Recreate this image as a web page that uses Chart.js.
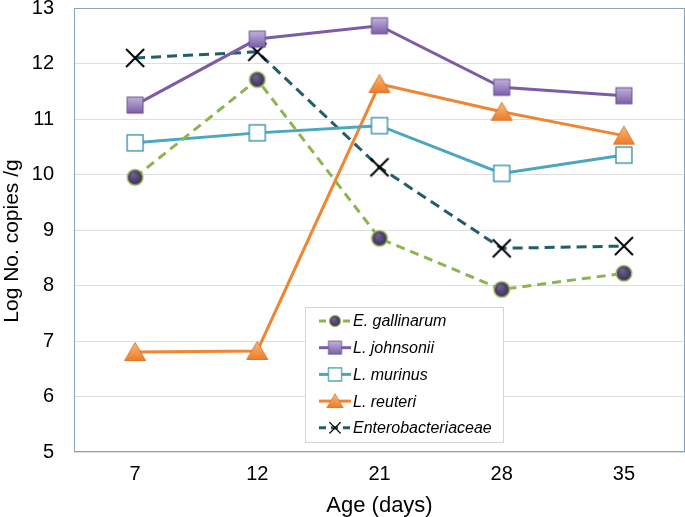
<!DOCTYPE html>
<html>
<head>
<meta charset="utf-8">
<script src="https://cdn.jsdelivr.net/npm/chart.js@4.4.1/dist/chart.umd.min.js"></script>
<style>
html,body{margin:0;padding:0;background:#fff;}
#wrap{width:685px;height:517px;}
</style>
</head>
<body>
<div id="wrap"><canvas id="c" width="685" height="517"></canvas></div>
<script>
const ageLabels = ['7', '12', '21', '28', '35'];
const eGallinarum = [9.95, 11.71, 8.85, 7.93, 8.22];
const lJohnsonii = [11.25, 12.44, 12.68, 11.57, 11.42];
const lMurinus = [10.57, 10.75, 10.88, 10.02, 10.35];
const lReuteri = [6.80, 6.82, 11.63, 11.13, 10.70];
const enterobacteriaceae = [12.10, 12.21, 10.13, 8.67, 8.71];
const seriesNames = ['E. gallinarum', 'L. johnsonii', 'L. murinus', 'L. reuteri', 'Enterobacteriaceae'];
const yTicks = [5, 6, 7, 8, 9, 10, 11, 12, 13];
const xTitle = 'Age (days)';
const yTitle = 'Log No. copies /g';

const FONT = '"Liberation Sans", Arial, sans-serif';

function mk(size, draw) {
  const c = document.createElement('canvas');
  c.width = size; c.height = size;
  const g = c.getContext('2d');
  draw(g, size / 2);
  return c;
}
const circleImg = mk(22, (g, m) => {
  const gr = g.createRadialGradient(m - 2, m - 3, 1, m, m, 8);
  gr.addColorStop(0, '#6f5e93');
  gr.addColorStop(1, '#3a2c55');
  g.beginPath(); g.arc(m, m, 7.8, 0, Math.PI * 2);
  g.fillStyle = gr; g.fill();
  g.lineWidth = 1.6; g.strokeStyle = '#9bbb59'; g.stroke();
});
const squareImg = mk(22, (g, m) => {
  const gr = g.createLinearGradient(0, m - 8, 0, m + 8);
  gr.addColorStop(0, '#c2b2dc');
  gr.addColorStop(1, '#7a5fa6');
  g.fillStyle = gr;
  g.fillRect(m - 8, m - 8, 16, 16);
  g.lineWidth = 1; g.strokeStyle = '#6a4f94';
  g.strokeRect(m - 8, m - 8, 16, 16);
});
const whiteSqImg = mk(22, (g, m) => {
  g.fillStyle = '#ffffff';
  g.fillRect(m - 8, m - 8, 16, 16);
  g.lineWidth = 1.4; g.strokeStyle = '#3d95ad';
  g.strokeRect(m - 8, m - 8, 16, 16);
});
const triImg = mk(24, (g, m) => {
  const gr = g.createLinearGradient(0, m - 9, 0, m + 9);
  gr.addColorStop(0, '#fcb878');
  gr.addColorStop(1, '#ec7a26');
  g.beginPath();
  g.moveTo(m, m - 9.5); g.lineTo(m + 10.5, m + 8.5); g.lineTo(m - 10.5, m + 8.5); g.closePath();
  g.fillStyle = gr; g.fill();
  g.lineWidth = 1; g.strokeStyle = '#d8782c'; g.stroke();
});
const xImg = mk(24, (g, m) => {
  g.beginPath();
  g.moveTo(m - 9, m - 9); g.lineTo(m + 9, m + 9);
  g.moveTo(m + 9, m - 9); g.lineTo(m - 9, m + 9);
  g.lineWidth = 2; g.strokeStyle = '#000'; g.stroke();
});

const GREEN = '#8fb34e', PURPLE = '#7b5ca5', TEAL = '#4aa7bf', ORANGE = '#ef8633', DTEAL = '#215d6c';

const datasets = [
  {label: seriesNames[0], data: eGallinarum, borderColor: GREEN, borderWidth: 3, borderDash: [9, 6], pointStyle: circleImg},
  {label: seriesNames[1], data: lJohnsonii, borderColor: PURPLE, borderWidth: 3, pointStyle: squareImg},
  {label: seriesNames[2], data: lMurinus, borderColor: TEAL, borderWidth: 3, pointStyle: whiteSqImg},
  {label: seriesNames[3], data: lReuteri, borderColor: ORANGE, borderWidth: 3, pointStyle: triImg},
  {label: seriesNames[4], data: enterobacteriaceae, borderColor: DTEAL, borderWidth: 3, borderDash: [10, 6], pointStyle: xImg}
].map(d => Object.assign({fill: false, tension: 0, pointRadius: 10, backgroundColor: d.borderColor, clip: false}, d));

const frame = {
  id: 'frame',
  beforeDatasetsDraw(chart) {
    const a = chart.chartArea, g = chart.ctx;
    g.save();
    g.strokeStyle = '#8ba1be'; g.lineWidth = 1;
    g.strokeRect(a.left + 0.5, a.top + 0.5, a.right - a.left - 1, a.bottom - a.top - 1);
    g.restore();
  },
  afterDatasetsDraw(chart) {
    const g = chart.ctx;
    const bx = 305, by = 307, bw = 198, bh = 135;
    g.save();
    g.fillStyle = '#fff';
    g.fillRect(bx, by, bw, bh);
    g.strokeStyle = '#d4d4d4'; g.lineWidth = 1;
    g.strokeRect(bx + 0.5, by + 0.5, bw, bh);
    const imgs = [circleImg, squareImg, whiteSqImg, triImg, xImg];
    const scales = [0.72, 0.82, 0.82, 0.78, 0.62];
    chart.data.datasets.forEach((ds, i) => {
      const y = 321 + i * 26.7;
      g.beginPath();
      g.strokeStyle = ds.borderColor; g.lineWidth = 3;
      g.setLineDash(ds.borderDash ? [7, 5] : []);
      g.moveTo(319, y); g.lineTo(351, y); g.stroke();
      g.setLineDash([]);
      const im = imgs[i], s = scales[i];
      const w = im.width * s;
      g.drawImage(im, 335 - w / 2, y - w / 2, w, w);
      g.fillStyle = '#000';
      g.font = 'italic 16px ' + FONT;
      g.textBaseline = 'middle'; g.textAlign = 'left';
      g.fillText(ds.label, 353, y + 1);
    });
    g.restore();
  },
  afterDraw(chart) {
    const g = chart.ctx, a = chart.chartArea;
    g.save();
    g.fillStyle = '#000';
    g.font = '21px ' + FONT;
    g.textAlign = 'center'; g.textBaseline = 'alphabetic';
    g.translate(17.5, (a.top + a.bottom) / 2 + 11);
    g.rotate(-Math.PI / 2);
    g.fillText(yTitle, 0, 0);
    g.restore();
  }
};

new Chart(document.getElementById('c'), {
  type: 'line',
  data: {labels: ageLabels, datasets},
  options: {
    responsive: false,
    animation: false,
    layout: {autoPadding: false, padding: {top: 8, right: 0, left: 0, bottom: 0}},
    plugins: {legend: {display: false}, tooltip: {enabled: false}},
    scales: {
      x: {
        type: 'category',
        offset: true,
        grid: {display: false, drawTicks: false},
        border: {display: false},
        ticks: {color: '#000', padding: 10, font: {family: FONT, size: 20}},
        title: {display: true, text: xTitle, color: '#000', padding: {top: 0, bottom: 0}, font: {family: FONT, size: 22, lineHeight: 1}},
        afterFit(s) { s.height = 65; s.paddingLeft = 0; s.paddingRight = 0; }
      },
      y: {
        min: 5, max: 13,
        afterBuildTicks(s) { s.ticks = yTicks.map(v => ({value: v})); },
        grid: {color: '#dedede', lineWidth: 1, drawTicks: false},
        border: {display: false},
        ticks: {color: '#000', padding: 20, font: {family: FONT, size: 20}},
        title: {display: false},
        afterFit(s) { s.width = 74; s.paddingTop = 0; s.paddingBottom = 0; }
      }
    }
  },
  plugins: [frame]
});
</script>
</body>
</html>
